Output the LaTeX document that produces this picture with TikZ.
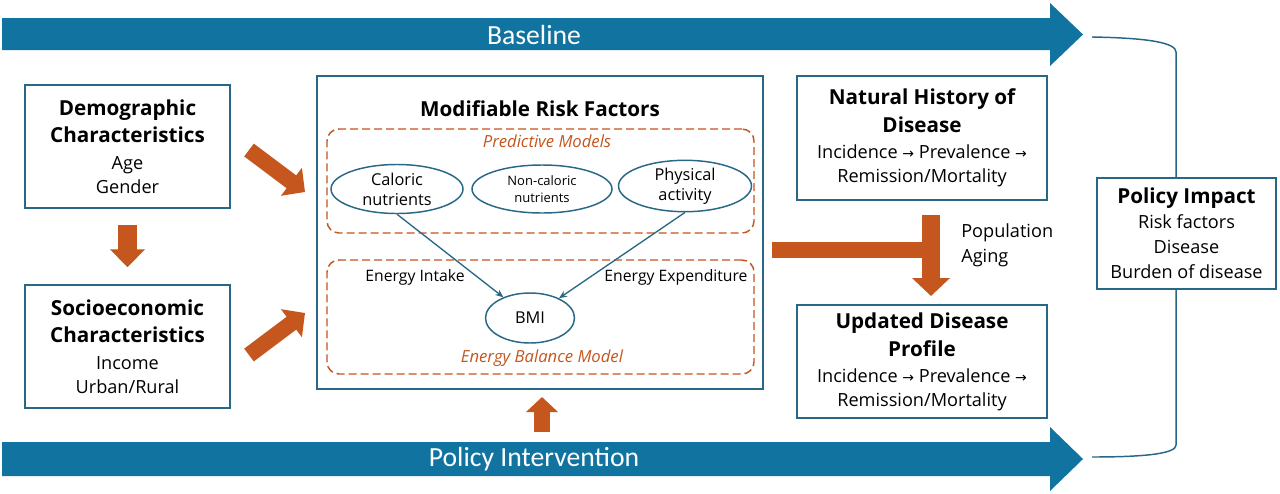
\documentclass[tikz,border=0pt]{standalone}
\usepackage{fontspec}
\setmainfont{Open Sans}
\newfontfamily\bannerfont{Carlito}
\newfontfamily\symfont{DejaVu Sans}
\usetikzlibrary{shapes.geometric,arrows.meta}
\definecolor{bannerblue}{RGB}{17,116,160}
\definecolor{boxblue}{RGB}{40,104,134}
\definecolor{rust}{RGB}{196,86,30}
\newcommand\ttl{\fontsize{15.5}{18}\selectfont\bfseries}
\newcommand\rarr{ {\symfont\fontsize{10.5}{10}\selectfont →} }
\begin{document}
\begin{tikzpicture}[x=0.75pt,y=-0.75pt,
  box/.style={draw=boxblue,line width=1.1pt,rectangle,inner sep=0pt,align=center,font=\fontsize{13.6}{18}\selectfont},
  bub/.style={draw=boxblue,line width=1.1pt,ellipse,inner sep=0pt,align=center,font=\fontsize{12.25}{15}\selectfont},
  dashbox/.style={draw=rust,line width=1.1pt,dash pattern=on 6pt off 3pt,rounded corners=9pt,rectangle,inner sep=0pt},
  rustarrow/.style={draw=rust},
  thinarr/.style={draw=boxblue,line width=1pt,-{Stealth[length=6pt,width=5pt]}},
  lbl/.style={font=\fontsize{11.8}{15}\selectfont,inner sep=0pt},
  ital/.style={font=\fontsize{12.5}{15}\selectfont\itshape,text=rust,inner sep=0pt},
  bannertext/.style={font=\bannerfont\fontsize{20.75}{24}\selectfont,text=white,inner sep=0pt},
  bracket/.style={draw=boxblue,line width=1.1pt}
]
\useasboundingbox (0,0) rectangle (1280,493);
\fill[white] (0,0) rectangle (1280,493);

% banners
\fill[bannerblue] (2,18) -- (1050,18) -- (1050,3) -- (1083,34.5) -- (1050,66) -- (1050,50) -- (2,50) -- cycle;
\node[bannertext] (baseline) at (534,34.5) {Baseline};
\fill[bannerblue] (2,442) -- (1050,442) -- (1050,427) -- (1083,459) -- (1050,491) -- (1050,476) -- (2,476) -- cycle;
\node[bannertext] (policy) at (534,459) {Policy Intervention};

% left boxes
\node[box,minimum width=153.75pt,minimum height=92.25pt] (demo) at (127.5,146.5)
  {{\ttl Demographic}\\[2.25pt]{\ttl Characteristics}\\[2.25pt]Age\\Gender};
\node[box,minimum width=153.75pt,minimum height=92.25pt] (socio) at (127.5,346.5)
  {{\ttl Socioeconomic}\\[2.25pt]{\ttl Characteristics}\\[2.25pt]Income\\Urban/Rural};
\draw[rustarrow,line width=14.25pt,-{Triangle[length=13.5pt,width=25.5pt]},shorten <=12pt,shorten >=12.75pt] (demo) -- (socio);

% modifiable risk factors
\node[box,minimum width=334.5pt,minimum height=234.75pt] (mrf) at (540,232.5) {};
\node[font=\ttl,inner sep=0pt] (mrftitle) at (540,109) {Modifiable Risk Factors};
\node[dashbox,minimum width=320.25pt,minimum height=78pt] (pred) at (540.5,181) {};
\node[ital] (predlbl) at (547,141) {Predictive Models};
\node[dashbox,minimum width=320.25pt,minimum height=85.5pt] (ebm) at (540.5,317) {};
\node[ital] (ebmlbl) at (542,358) {Energy Balance Model};
\node[bub,minimum width=99pt,minimum height=36.75pt] (cal) at (397,189) {Caloric\\nutrients};
\node[bub,minimum width=105pt,minimum height=36pt,font=\fontsize{9.75}{12.75}\selectfont] (noncal) at (542,189) {Non-caloric\\nutrients};
\node[bub,minimum width=99.75pt,minimum height=36pt] (phys) at (685,186) {Physical\\activity};
\node[bub,minimum width=66.75pt,minimum height=37.5pt] (bmi) at (530,318) {BMI};
\draw[thinarr] (cal.south) -- (bmi);
\draw[thinarr] (phys.south) -- (bmi);
\node[lbl] (ei) at (415,277) {Energy Intake};
\node[lbl] (ee) at (676,277) {Energy Expenditure};

% arrows into MRF
\coordinate (d1s) at (249,150); \coordinate (d1e) at (305,192);
\draw[rustarrow,line width=12pt,-{Triangle[length=12.75pt,width=25.5pt]}] (d1s) -- (d1e);
\coordinate (d2s) at (249,355); \coordinate (d2e) at (305,313);
\draw[rustarrow,line width=12pt,-{Triangle[length=12.75pt,width=25.5pt]}] (d2s) -- (d2e);
\coordinate (ups) at (542,432); \coordinate (upe) at (542,397);
\draw[rustarrow,line width=12pt,-{Triangle[length=11.25pt,width=23.25pt]}] (ups) -- (upe);

% disease boxes
\node[box,minimum width=187.5pt,minimum height=93pt] (nh) at (922,138)
  {{\ttl Natural History of}\\[3pt]{\ttl Disease}\\[1.5pt]Incidence\rarr Prevalence\rarr\\Remission/Mortality};
\node[box,minimum width=187.5pt,minimum height=84.75pt] (ud) at (922,361.5)
  {{\ttl Updated Disease}\\[3pt]{\ttl Profile}\\[1.5pt]Incidence\rarr Prevalence\rarr\\Remission/Mortality};
\coordinate (hs) at (772,250); \coordinate (he) at (935,250);
\draw[rustarrow,line width=12pt] (hs) -- (he);
\coordinate (vs) at (931,215); \coordinate (ve) at (931,296);
\draw[rustarrow,line width=13.5pt,-{Triangle[length=13.5pt,width=27.75pt]}] (vs) -- (ve);
\node[font=\fontsize{13.6}{18.75}\selectfont,align=left,anchor=west,inner sep=0pt] (pa) at (961,245.5) {Population\\Aging};

% policy impact
\node[box,minimum width=134.25pt,minimum height=83.25pt] (pi) at (1186.5,233.5)
  {{\ttl Policy Impact}\\[0.75pt]Risk factors\\[0.75pt]Disease\\[0.75pt]Burden of disease};
\coordinate (bt) at (1092,37); \coordinate (bx) at (1176,52);
\coordinate (bb) at (1092,457); \coordinate (bx2) at (1176,445);
\draw[bracket] (bt) .. controls (1150,38) and (1176,43) .. (bx) -- (bx |- pi.north);
\draw[bracket] (bx2 |- pi.south) -- (bx2) .. controls (1176,453) and (1150,457) .. (bb);
\end{tikzpicture}
\end{document}
